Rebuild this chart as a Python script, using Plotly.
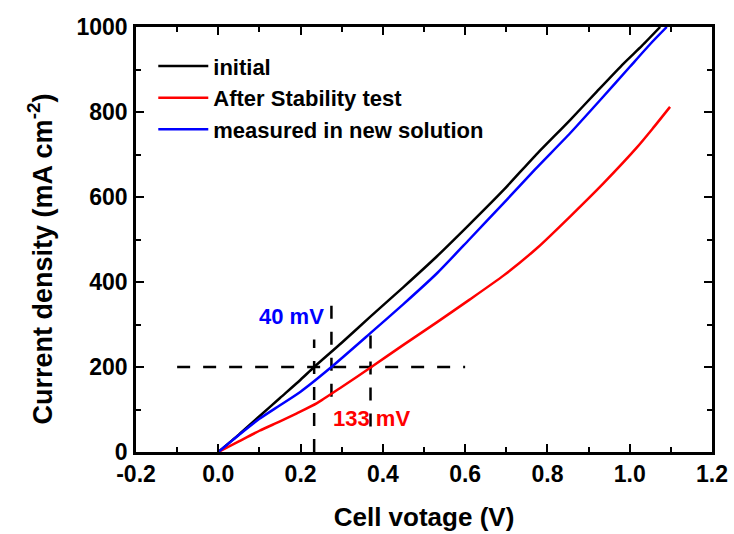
import plotly.graph_objects as go

# ---- data ----
v_initial = [0, 0.05, 0.1, 0.15, 0.2, 0.233, 0.3, 0.369, 0.45, 0.531, 0.61, 0.693, 0.77, 0.855, 0.92, 0.985, 1.03, 1.074]
j_initial = [0, 41, 84, 127, 170, 200, 257, 318, 388, 460, 535, 616, 697, 781, 848, 914, 956, 1000]

v_after = [0, 0.05, 0.1, 0.15, 0.191, 0.24, 0.3, 0.372, 0.45, 0.531, 0.61, 0.693, 0.775, 0.855, 0.936, 1.017, 1.055, 1.098]
j_after = [0, 25, 50, 72, 91, 115, 153, 200, 252, 305, 358, 415, 480, 554, 632, 716, 760, 812]

v_new = [0, 0.05, 0.1, 0.15, 0.2, 0.275, 0.369, 0.45, 0.531, 0.61, 0.693, 0.77, 0.855, 0.93, 1.001, 1.05, 1.09]
j_new = [0, 40, 78, 110, 142, 200, 279, 348, 420, 500, 585, 665, 750, 830, 907, 960, 1000]

series_names = ["initial", "After Stability test", "measured in new solution"]
series_colors = ["#000000", "#ff0000", "#0000ff"]

# guide lines
guide_h_v = [-0.1, 0.6]
guide_h_j = [200, 200]
guide_v1_v = [0.233, 0.233]
guide_v1_j = [0, 265]
guide_v2_v = [0.275, 0.275]
guide_v2_j = [130, 360]
guide_v3_v = [0.37, 0.37]
guide_v3_j = [60, 295]

x_ticks = [-0.2, 0.0, 0.2, 0.4, 0.6, 0.8, 1.0, 1.2]
x_ticklabels = ["-0.2", "0.0", "0.2", "0.4", "0.6", "0.8", "1.0", "1.2"]
y_ticks = [0, 200, 400, 600, 800, 1000]

FONT = "Liberation Sans, Arial, sans-serif"

fig = go.Figure()

dash = "13px,13px"
for gx, gy in [(guide_h_v, guide_h_j), (guide_v1_v, guide_v1_j),
               (guide_v2_v, guide_v2_j), (guide_v3_v, guide_v3_j)]:
    fig.add_trace(go.Scatter(x=gx, y=gy, mode="lines", showlegend=False,
                             line=dict(color="black", width=2.5, dash=dash),
                             hoverinfo="skip"))

for v, j, name, col in [(v_initial, j_initial, series_names[0], series_colors[0]),
                        (v_after, j_after, series_names[1], series_colors[1]),
                        (v_new, j_new, series_names[2], series_colors[2])]:
    fig.add_trace(go.Scatter(x=v, y=j, mode="lines", name=name,
                             line=dict(color=col, width=2.5, shape="spline", smoothing=0.6)))

fig.add_annotation(x=0.177, y=318, text="40 mV", showarrow=False,
                   font=dict(family=FONT, size=22, color="#0000ff", weight="bold"))
fig.add_annotation(x=0.373, y=80, text="133 mV", showarrow=False,
                   font=dict(family=FONT, size=22, color="#ff0000", weight="bold"))
# y-axis title (placed as annotation to match the reference's offset)
fig.add_annotation(xref="paper", yref="paper", x=-0.167, y=0.455,
                   text="Current density (mA cm<sup>-2</sup>)", textangle=-90,
                   showarrow=False, xanchor="center", yanchor="middle",
                   font=dict(family=FONT, size=27, color="black", weight="bold"))

axis_common = dict(
    showline=True, linecolor="black", linewidth=2.5, mirror="allticks",
    ticks="inside", ticklen=8, tickwidth=2, tickcolor="black",
    showgrid=False, zeroline=False, automargin=False,
    tickfont=dict(family=FONT, size=23, color="black", weight="bold"),
)

fig.update_layout(
    width=734, height=534,
    margin=dict(l=136, r=22, t=27, b=82),
    paper_bgcolor="white", plot_bgcolor="white",
    font=dict(family=FONT, color="black"),
    xaxis=dict(range=[-0.2, 1.2], tickvals=x_ticks, ticktext=x_ticklabels,
               minor=dict(dtick=0.1, ticks="inside", ticklen=5, tickwidth=1.5, tickcolor="black"),
               ticklabelstandoff=0,
               title=dict(text="Cell votage (V)", standoff=22,
                          font=dict(family=FONT, size=26, color="black", weight="bold")),
               **axis_common),
    yaxis=dict(range=[0, 1000], tickvals=y_ticks,
               minor=dict(dtick=100, ticks="inside", ticklen=5, tickwidth=1.5, tickcolor="black"),
               ticklabelstandoff=1,
               **axis_common),
    legend=dict(x=0.03, y=0.957, xanchor="left", yanchor="top",
                bgcolor="rgba(0,0,0,0)", borderwidth=0,
                font=dict(family=FONT, size=22, color="black", weight="bold"),
                tracegroupgap=0, itemwidth=50),
    showlegend=True,
)

fig.write_html("out.html")
